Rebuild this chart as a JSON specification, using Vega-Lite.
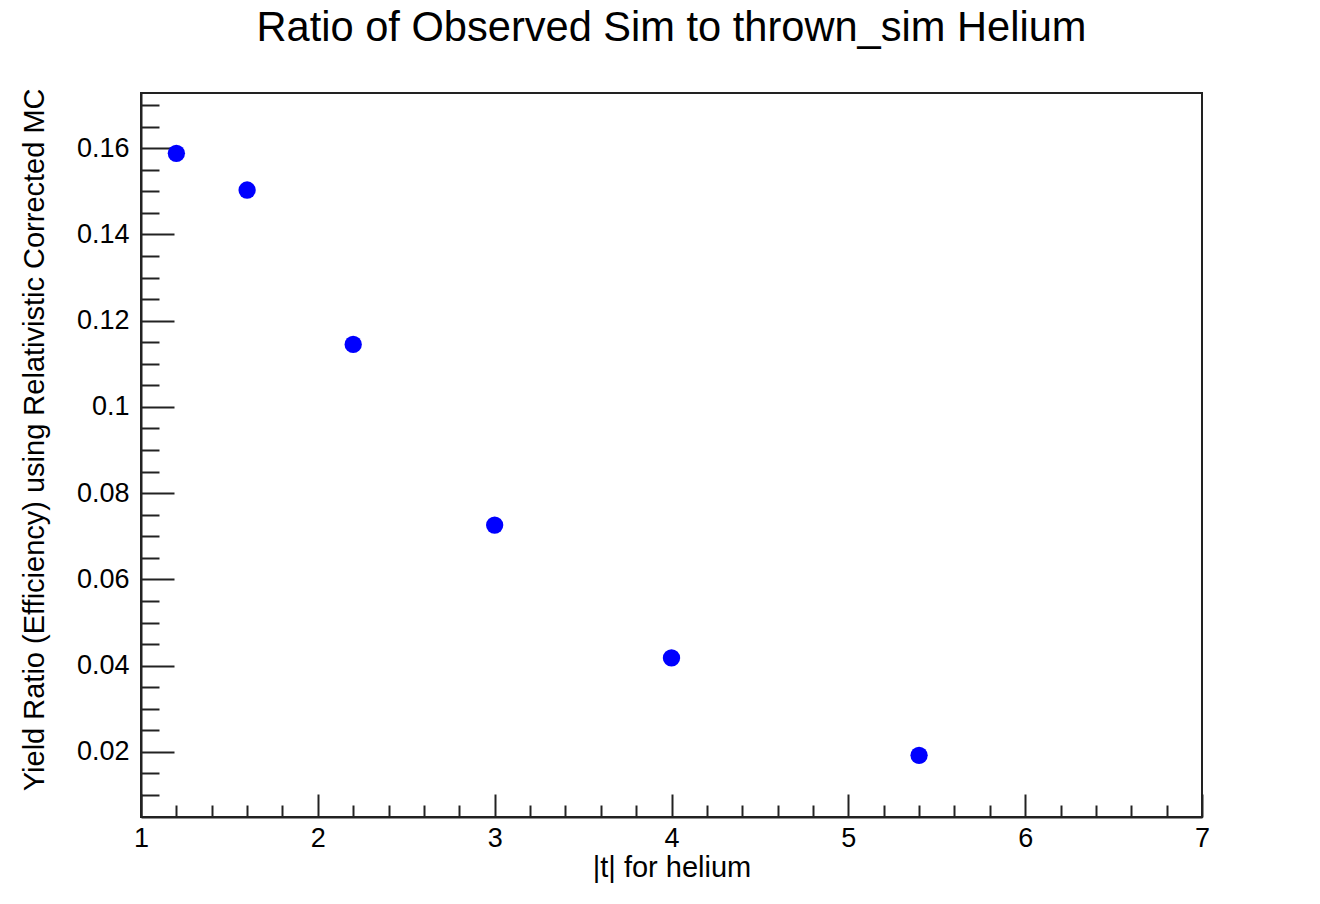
{
  "$schema": "https://vega.github.io/schema/vega-lite/v6.json",
  "width": 1061,
  "height": 724,
  "autosize": {"type": "none"},
  "padding": {"left": 141, "top": 93, "right": 118, "bottom": 87},
  "background": "white",
  "title": {
    "text": "Ratio of Observed Sim to thrown_sim Helium",
    "font": "Liberation Sans",
    "fontSize": 41.6,
    "fontWeight": "normal",
    "color": "black",
    "anchor": "middle",
    "frame": "group",
    "baseline": "alphabetic",
    "offset": 5
  },
  "config": {
    "view": {"stroke": "#222222", "strokeWidth": 2},
    "axis": {
      "grid": false,
      "domainColor": "#222222",
      "domainWidth": 2,
      "tickColor": "#222222",
      "tickWidth": 2,
      "labelFont": "Liberation Sans",
      "labelFontSize": 27,
      "labelColor": "black",
      "labelFlush": false,
      "labelOverlap": false,
      "labelBound": false,
      "titleFont": "Liberation Sans",
      "titleFontSize": 29,
      "titleFontWeight": "normal",
      "titleColor": "black"
    }
  },
  "data": {
    "values": [
      {"t": 1.2, "ratio": 0.1588},
      {"t": 1.6, "ratio": 0.1503},
      {"t": 2.2, "ratio": 0.1145},
      {"t": 3.0, "ratio": 0.0726},
      {"t": 4.0, "ratio": 0.0418},
      {"t": 5.4, "ratio": 0.0192}
    ]
  },
  "layer": [
    {
      "mark": {"type": "point", "filled": true, "shape": "circle", "size": 300, "color": "#0000ff", "opacity": 1},
      "encoding": {
        "x": {
          "field": "t",
          "type": "quantitative",
          "scale": {"domain": [1, 7], "nice": false, "zero": false},
          "axis": {
            "orient": "bottom",
            "values": [1, 2, 3, 4, 5, 6, 7],
            "format": "d",
            "tickSize": -23,
            "labelPadding": 31,
            "title": "|t| for helium",
            "titleX": 530.5,
            "titleY": 59,
            "titleAlign": "center",
            "titleBaseline": "alphabetic"
          }
        },
        "y": {
          "field": "ratio",
          "type": "quantitative",
          "scale": {"domain": [0.0049, 0.1728], "nice": false, "zero": false},
          "axis": {
            "orient": "left",
            "values": [0.02, 0.04, 0.06, 0.08, 0.1, 0.12, 0.14, 0.16],
            "format": ".2~f",
            "tickSize": -33,
            "labelPadding": 45,
            "title": "Yield Ratio (Efficiency) using Relativistic Corrected MC",
            "titleAngle": -90,
            "titleX": -98,
            "titleY": -5,
            "titleAlign": "right",
            "titleBaseline": "alphabetic"
          }
        }
      }
    },
    {
      "mark": {"type": "point", "opacity": 0},
      "encoding": {
        "x": {
          "field": "t",
          "type": "quantitative",
          "scale": {"domain": [1, 7], "nice": false, "zero": false},
          "axis": {
            "orient": "bottom",
            "values": [1.2, 1.4, 1.6, 1.8, 2.2, 2.4, 2.6, 2.8, 3.2, 3.4, 3.6, 3.8, 4.2, 4.4, 4.6, 4.8, 5.2, 5.4, 5.6, 5.8, 6.2, 6.4, 6.6, 6.8],
            "tickSize": -12,
            "labels": false,
            "domain": false,
            "title": null
          }
        },
        "y": {
          "field": "ratio",
          "type": "quantitative",
          "scale": {"domain": [0.0049, 0.1728], "nice": false, "zero": false},
          "axis": {
            "orient": "left",
            "values": [0.01, 0.015, 0.025, 0.03, 0.035, 0.045, 0.05, 0.055, 0.065, 0.07, 0.075, 0.085, 0.09, 0.095, 0.105, 0.11, 0.115, 0.125, 0.13, 0.135, 0.145, 0.15, 0.155, 0.165, 0.17],
            "tickSize": -18,
            "labels": false,
            "domain": false,
            "title": null
          }
        }
      }
    }
  ],
  "resolve": {"axis": {"x": "independent", "y": "independent"}}
}
